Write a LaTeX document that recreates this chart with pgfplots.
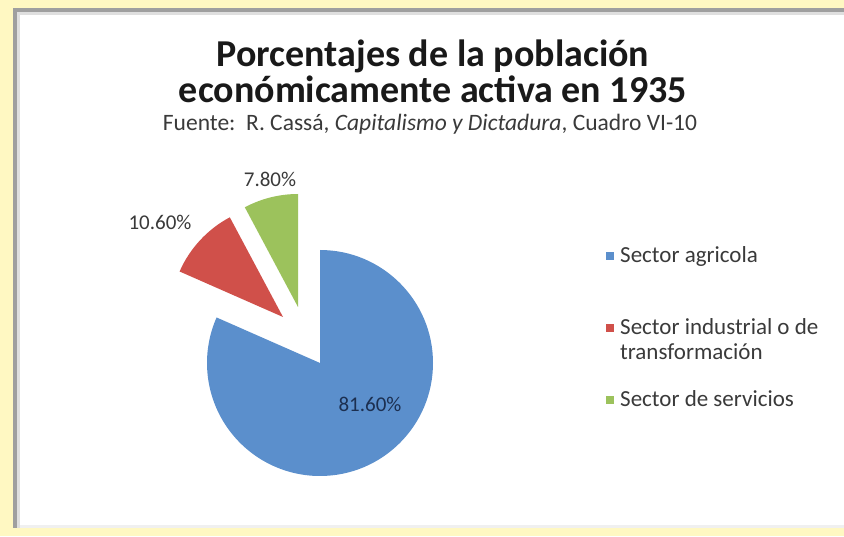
\documentclass[border=0pt]{standalone}
\usepackage{fontspec}
\setmainfont{Carlito}
\usepackage{pgfplots}
\usepackage{pgfplotstable}
\pgfplotsset{compat=1.18}
\pgfkeys{/pgf/number format/assume math mode=true}

\definecolor{bgyellow}{HTML}{FFF8C2}
\definecolor{sblue}{HTML}{5B8FCC}
\definecolor{sred}{HTML}{D0504A}
\definecolor{sgreen}{HTML}{9CC25C}
\definecolor{txt}{HTML}{3A3A3A}
\definecolor{lblue}{HTML}{1C2F50}

% value (%), slice vertex and label position in picture pixels (y from bottom)
\pgfplotstableread{
val  cx   cy   lx   ly   col
81.6 320  173  370  124  sblue
10.6 283  219  160  306  sred
7.8  298  229  270  349  sgreen
}\piedata

\begin{document}
\begin{tikzpicture}
\begin{axis}[
    x=1pt, y=1pt,
    xmin=0, xmax=844, ymin=0, ymax=536,
    scale only axis,
    hide axis,
    clip=false,
]
% page and chart panel
\fill[bgyellow] (axis cs:0,0) rectangle (axis cs:844,536);
\fill[white] (axis cs:13,8) rectangle (axis cs:844,528);
\fill[gray!75] (axis cs:13,8) rectangle (axis cs:17,528);
\fill[gray!75] (axis cs:13,524) rectangle (axis cs:844,528);
\fill[gray!25] (axis cs:17,8) rectangle (axis cs:20,524);
\fill[gray!25] (axis cs:17,521) rectangle (axis cs:844,524);
\fill[gray!12] (axis cs:20,8) rectangle (axis cs:844,11);

% title
\node[anchor=base, font=\bfseries\fontsize{38}{40}\selectfont, text=black!90]
  at (axis cs:433,469) {Porcentajes de la población};
\node[anchor=base, font=\bfseries\fontsize{38}{40}\selectfont, text=black!90]
  at (axis cs:433,433) {económicamente activa en 1935};
\node[anchor=base, font=\fontsize{23.5}{25}\selectfont, text=txt]
  at (axis cs:430,405) {Fuente:\ \ R. Cassá, \textit{Capitalismo y Dictadura}, Cuadro VI-10};

% pie slices, clockwise from 12 o'clock
\xdef\acc{0}
\foreach \i in {0,1,2}{
  \pgfplotstablegetelem{\i}{val}\of\piedata \let\sv\pgfplotsretval
  \pgfplotstablegetelem{\i}{cx}\of\piedata \let\cx\pgfplotsretval
  \pgfplotstablegetelem{\i}{cy}\of\piedata \let\cy\pgfplotsretval
  \pgfplotstablegetelem{\i}{lx}\of\piedata \let\lx\pgfplotsretval
  \pgfplotstablegetelem{\i}{ly}\of\piedata \let\ly\pgfplotsretval
  \pgfplotstablegetelem{\i}{col}\of\piedata \let\scol\pgfplotsretval
  \pgfmathsetmacro{\sa}{90-3.6*\acc}
  \pgfmathsetmacro{\ea}{90-3.6*(\acc+\sv)}
  \ifnum\i=0 \def\lc{lblue}\else\def\lc{txt}\fi
  \edef\cmd{%
    \noexpand\fill[\scol] (axis cs:\cx,\cy) -- ++(\sa:113pt)
      arc[start angle=\sa, end angle=\ea, radius=113pt] -- cycle;
    \noexpand\node[anchor=base, font=\noexpand\fontsize{21}{23}\noexpand\selectfont, text=\lc]
      at (axis cs:\lx,\ly)
      {\noexpand\pgfmathprintnumber[fixed, fixed zerofill, precision=2]{\sv}\noexpand\%};
  }\cmd
  \pgfmathsetmacro{\newacc}{\acc+\sv}
  \xdef\acc{\newacc}
}

% legend
\tikzset{legtxt/.style={anchor=base west, font=\fontsize{23}{25}\selectfont, text=txt, inner xsep=0pt}}
\fill[sblue] (axis cs:606,276) rectangle (axis cs:614,284);
\node[legtxt] at (axis cs:620,273) {Sector agricola};
\fill[sred] (axis cs:606,204) rectangle (axis cs:614,212);
\node[legtxt] at (axis cs:620,201) {Sector industrial o de};
\node[legtxt] at (axis cs:620,176) {transformación};
\fill[sgreen] (axis cs:606,132) rectangle (axis cs:614,140);
\node[legtxt] at (axis cs:620,129) {Sector de servicios};
\end{axis}
\end{tikzpicture}
\end{document}
